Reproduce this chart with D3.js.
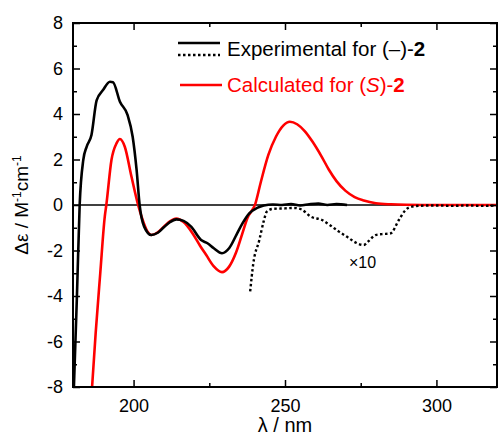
<!DOCTYPE html>
<html>
<head>
<meta charset="utf-8">
<script src="https://cdn.jsdelivr.net/npm/d3@7"></script>
<style>
  body { margin: 0; background: #fff; }
  svg { display: block; font-family: "Liberation Sans", Arial, sans-serif; }
</style>
</head>
<body>
<div id="chart"></div>
<script>
// CD spectra, wavelength in nm vs delta epsilon
var expSolid = [
  [180.3, -8.0], [181.3, -4.0], [182.2, 0.0], [183.4, 1.98], [184.5, 2.56], [186.1, 3.08],
  [187.8, 4.6], [189.9, 5.05], [192.2, 5.42], [193.2, 5.4], [195.5, 4.54], [198.0, 3.96],
  [199.7, 3.0], [201.0, 1.54], [202.0, 0.0], [203.5, -0.95], [205.9, -1.32], [208.0, -1.22],
  [210.0, -0.98], [212.0, -0.75], [214.1, -0.63], [216.5, -0.7], [219.0, -0.95], [222.3, -1.54],
  [224.4, -1.68], [226.5, -1.9], [229.2, -2.12], [231.6, -1.89], [234.0, -1.3], [236.0, -0.8],
  [238.2, -0.37], [240.8, -0.13], [243.0, -0.02], [246.0, 0.02], [249.0, 0.0], [252.0, 0.04],
  [255.0, -0.02], [258.0, 0.03], [261.0, 0.06], [264.0, 0.0], [267.0, 0.04], [270.5, 0.0]
];

var expTimes10 = [
  [238.5, -3.8], [239.5, -2.6], [241.5, -1.55], [243.0, -0.7], [244.0, -0.29], [246.0, -0.17],
  [250.0, -0.15], [253.0, -0.13], [255.5, -0.2], [258.5, -0.51], [262.2, -0.66], [265.0, -0.9],
  [267.8, -1.17], [270.5, -1.4], [272.8, -1.61], [276.0, -1.76], [277.5, -1.6], [279.9, -1.32],
  [282.0, -1.28], [284.8, -1.25], [287.6, -0.66], [289.8, -0.22], [291.9, -0.07], [295.0, -0.03],
  [300.0, -0.02], [305.0, -0.04], [310.0, -0.02], [315.0, -0.04], [320.0, -0.02]
];

var calcRed = [
  [186.3, -8.0], [187.5, -5.6], [189.0, -3.0], [190.5, -0.5], [191.0, 0.0], [192.7, 1.98],
  [194.4, 2.72], [195.5, 2.9], [197.1, 2.56], [199.3, 1.25], [201.5, 0.0], [203.0, -0.66],
  [204.5, -1.15], [205.9, -1.32], [208.0, -1.2], [210.0, -0.95], [212.0, -0.72], [214.1, -0.6],
  [216.5, -0.75], [219.5, -1.25], [222.0, -1.8], [224.0, -2.2], [226.5, -2.7], [229.2, -2.95],
  [231.5, -2.72], [233.8, -2.1], [235.8, -1.3], [237.6, -0.57], [240.2, 0.05], [242.0, 1.0],
  [244.5, 2.2], [247.0, 3.0], [249.5, 3.5], [251.6, 3.66], [254.0, 3.55], [256.5, 3.25],
  [259.0, 2.8], [262.0, 2.15], [264.5, 1.55], [267.0, 1.05], [270.0, 0.62], [273.0, 0.35],
  [276.0, 0.2], [280.0, 0.08], [285.0, 0.03], [290.0, 0.01], [300.0, 0.0], [320.0, 0.0]
];

var xTicks = [200, 250, 300];
var xMinor = [225, 275];
var yTicks = [-8, -6, -4, -2, 0, 2, 4, 6, 8];
var yMinor = [-7, -5, -3, -1, 1, 3, 5, 7];

var W = 499, H = 438;
var pLeft = 73, pRight = 497, pTop = 23, pBottom = 387;

var svg = d3.select("#chart").append("svg")
  .attr("width", W)
  .attr("height", H);

var x = d3.scaleLinear().domain([180, 320]).range([pLeft, pRight]);
var y = d3.scaleLinear().domain([-8, 8]).range([pBottom, pTop]);

svg.append("clipPath").attr("id", "clip")
  .append("rect")
  .attr("x", pLeft).attr("y", pTop)
  .attr("width", pRight - pLeft).attr("height", pBottom - pTop);

var plot = svg.append("g").attr("clip-path", "url(#clip)");

// zero line
plot.append("line")
  .attr("x1", pLeft).attr("x2", pRight)
  .attr("y1", y(0)).attr("y2", y(0))
  .attr("stroke", "#000").attr("stroke-width", 1.5);

var line = d3.line()
  .x(function(d) { return x(d[0]); })
  .y(function(d) { return y(d[1]); })
  .curve(d3.curveMonotoneX);

plot.append("path").datum(calcRed)
  .attr("d", line).attr("fill", "none")
  .attr("stroke", "#ff0000").attr("stroke-width", 2.6);

plot.append("path").datum(expTimes10)
  .attr("d", line).attr("fill", "none")
  .attr("stroke", "#000").attr("stroke-width", 2.4)
  .attr("stroke-dasharray", "2.5,2.5");

plot.append("path").datum(expSolid)
  .attr("d", line).attr("fill", "none")
  .attr("stroke", "#000").attr("stroke-width", 2.6);

// axes, ticks inward on all four sides
var plain = function(d) { return String(d); };
var axes = [
  d3.axisBottom(x).tickValues(xTicks).tickSizeInner(-7).tickSizeOuter(0).tickPadding(12).tickFormat(plain),
  d3.axisTop(x).tickValues(xTicks).tickSizeInner(-7).tickSizeOuter(0).tickFormat(""),
  d3.axisLeft(y).tickValues(yTicks).tickSizeInner(-7).tickSizeOuter(0).tickPadding(10).tickFormat(plain),
  d3.axisRight(y).tickValues(yTicks).tickSizeInner(-7).tickSizeOuter(0).tickFormat("")
];
var minors = [
  d3.axisBottom(x).tickValues(xMinor).tickSizeInner(-4).tickSizeOuter(0).tickFormat(""),
  d3.axisTop(x).tickValues(xMinor).tickSizeInner(-4).tickSizeOuter(0).tickFormat(""),
  d3.axisLeft(y).tickValues(yMinor).tickSizeInner(-4).tickSizeOuter(0).tickFormat(""),
  d3.axisRight(y).tickValues(yMinor).tickSizeInner(-4).tickSizeOuter(0).tickFormat("")
];
var shifts = ["translate(0," + pBottom + ")", "translate(0," + pTop + ")",
              "translate(" + pLeft + ",0)", "translate(" + pRight + ",0)"];

axes.forEach(function(a, i) {
  var g = svg.append("g").attr("transform", shifts[i]).call(a);
  g.select(".domain").remove();
  g.selectAll("line").attr("stroke", "#000").attr("stroke-width", 1.5);
  g.selectAll("text").attr("fill", "#000").style("font-size", "18px")
    .style("font-family", "Liberation Sans, Arial, sans-serif");
  var m = svg.append("g").attr("transform", shifts[i]).call(minors[i]);
  m.select(".domain").remove();
  m.selectAll("line").attr("stroke", "#000").attr("stroke-width", 1.5);
});

svg.append("rect")
  .attr("x", pLeft).attr("y", pTop)
  .attr("width", pRight - pLeft).attr("height", pBottom - pTop)
  .attr("fill", "none").attr("stroke", "#000").attr("stroke-width", 2);

// axis titles
svg.append("text")
  .attr("x", x(250)).attr("y", 432)
  .attr("text-anchor", "middle")
  .style("font-size", "20px")
  .text("λ / nm");

var yt = svg.append("text")
  .attr("transform", "translate(28," + y(0) + ") rotate(-90)")
  .attr("text-anchor", "middle")
  .style("font-size", "19px");
yt.append("tspan").text("Δε / M");
yt.append("tspan").attr("dy", -7).style("font-size", "12px").text("-1");
yt.append("tspan").attr("dy", 7).text("cm");
yt.append("tspan").attr("dy", -7).style("font-size", "12px").text("-1");

// x10 annotation
svg.append("text")
  .attr("x", x(271.1)).attr("y", y(-2.78))
  .style("font-size", "16px")
  .text("×10");

// legend
var leg = svg.append("g");
leg.append("line").attr("x1", 178).attr("x2", 220).attr("y1", 43).attr("y2", 43)
  .attr("stroke", "#000").attr("stroke-width", 2.6);
leg.append("line").attr("x1", 178).attr("x2", 220).attr("y1", 55).attr("y2", 55)
  .attr("stroke", "#000").attr("stroke-width", 2.4).attr("stroke-dasharray", "2.5,2.5");
var t1 = leg.append("text").attr("x", 227).attr("y", 56).style("font-size", "20.5px");
t1.append("tspan").text("Experimental for (–)-");
t1.append("tspan").style("font-weight", "bold").text("2");

leg.append("line").attr("x1", 180).attr("x2", 222).attr("y1", 85).attr("y2", 85)
  .attr("stroke", "#ff0000").attr("stroke-width", 2.6);
var t2 = leg.append("text").attr("x", 227).attr("y", 92).attr("fill", "#ff0000")
  .style("font-size", "20.5px");
t2.append("tspan").text("Calculated for (");
t2.append("tspan").style("font-style", "italic").text("S");
t2.append("tspan").text(")-");
t2.append("tspan").style("font-weight", "bold").text("2");
</script>
</body>
</html>
